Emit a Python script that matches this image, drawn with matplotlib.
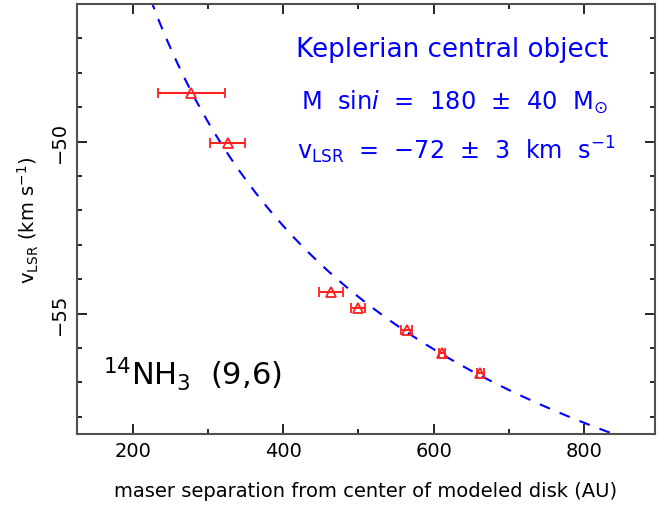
import numpy as np
import matplotlib
matplotlib.use("Agg")
import matplotlib.pyplot as plt
from matplotlib.ticker import MultipleLocator

# --- data ---
sep_au = [278, 326, 463, 499, 564, 611, 662]
v_lsr = [-48.6, -50.05, -54.36, -54.85, -55.47, -56.15, -56.73]
sep_err = [45, 23.5, 16, 9.5, 7, 4.5, 5]

# Keplerian model parameters (curve drawn in the reference)
v_sys = -72.0
kep_amp = 391.0  # km/s * AU^0.5

plt.rcParams['font.family'] = ['DejaVu Sans']
plt.rcParams['mathtext.fontset'] = 'dejavusans'

fig = plt.figure(figsize=(6.64, 5.06), dpi=100)
ax = fig.add_axes([77/664, 1-435/506, 578/664, 430/506])

r = np.linspace(150, 950, 600)
ax.plot(r, v_sys + kep_amp/np.sqrt(r), color='#0000ff', lw=1.5,
        ls=(0, (5.3, 5.0)))

ax.errorbar(sep_au, v_lsr, xerr=sep_err, fmt='^', color='#ff2020',
            mfc='none', mec='#ff2020', ms=6.5, mew=1.3, elinewidth=1.5,
            capsize=3.6, capthick=1.5, ecolor='#ff2020')

ax.set_xlim(126, 894)
ax.set_ylim(-58.5, -46)

ax.xaxis.set_major_locator(MultipleLocator(200))
ax.xaxis.set_minor_locator(MultipleLocator(100))
ax.yaxis.set_major_locator(MultipleLocator(5))
ax.yaxis.set_minor_locator(MultipleLocator(1))

ax.tick_params(which='both', direction='in', top=True, right=True,
               color='black', width=1.2, labelsize=14)
ax.tick_params(which='major', length=7.2)
ax.tick_params(which='minor', length=3.6)
ax.tick_params(axis='x', pad=5)
ax.tick_params(axis='y', pad=6)
for lab in ax.get_yticklabels():
    lab.set_rotation(90)
    lab.set_va('center')

for s in ax.spines.values():
    s.set_color('#505050')
    s.set_linewidth(1.5)

ax.set_xlabel('maser separation from center of modeled disk (AU)',
              fontsize=14, labelpad=15)
ax.set_ylabel(r'v$_{\rm LSR}$ (km s$^{-1}$)', fontsize=14, labelpad=6)

blue = '#0000ff'
ax.text(0.649, 0.879, 'Keplerian central object', transform=ax.transAxes,
        ha='center', va='baseline', color=blue, fontsize=18.8)
ax.text(0.3875, 0.756, r'M  sin$\mathit{i}$  =  180  $\pm$  40  M$_{\odot}$',
        transform=ax.transAxes, ha='left', va='baseline', color=blue,
        fontsize=17.4)
ax.text(0.381, 0.640, r'v$_{\rm LSR}$  =  $-$72  $\pm$  3  km  s$^{-1}$',
        transform=ax.transAxes, ha='left', va='baseline', color=blue,
        fontsize=17.2)
ax.text(0.045, 0.116, r'$^{14}$NH$_3$  (9,6)', transform=ax.transAxes,
        ha='left', va='baseline', color='black', fontsize=22)

fig.savefig('out.png', dpi=100)
